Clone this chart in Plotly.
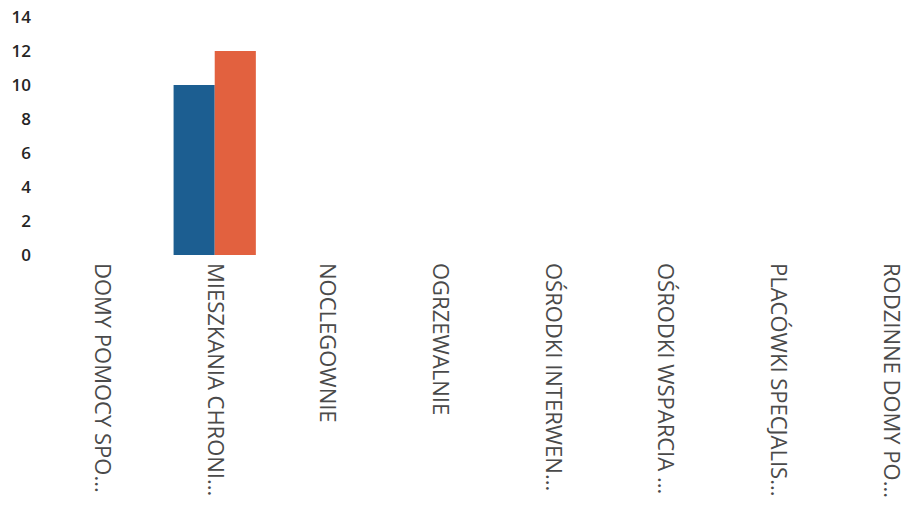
import plotly.graph_objects as go

categories = ["DOMY POMOCY SPO...", "MIESZKANIA CHRONI...", "NOCLEGOWNIE", "OGRZEWALNIE",
              "OŚRODKI INTERWEN...", "OŚRODKI WSPARCIA ...", "PLACÓWKI SPECJALIS...", "RODZINNE DOMY PO..."]
series_a = [0, 10, 0, 0, 0, 0, 0, 0]
series_b = [0, 12, 0, 0, 0, 0, 0, 0]
y_ticks = [0, 2, 4, 6, 8, 10, 12, 14]

fig = go.Figure()
fig.add_trace(go.Bar(x=categories, y=series_a, marker=dict(color="#1c5e91", line=dict(width=0)), name="A"))
fig.add_trace(go.Bar(x=categories, y=series_b, marker=dict(color="#e2613f", line=dict(width=0)), name="B"))

fig.update_layout(
    width=907, height=509,
    margin=dict(l=45, r=0, t=17, b=254),
    plot_bgcolor="white", paper_bgcolor="white",
    showlegend=False,
    barmode="group", bargap=0.27, bargroupgap=0,
    font=dict(family="Open Sans", color="#333333"),
)
fig.update_xaxes(range=[-0.506, 7.143], tickangle=90, showgrid=False, showline=False, zeroline=False,
                 tickfont=dict(size=22, color="#4a4a4a"), ticks="", automargin=False,
                 ticklabelstandoff=7, ticklabeloverflow="allow")
fig.update_yaxes(range=[0, 14], tickvals=y_ticks, showgrid=False, showline=False, zeroline=False,
                 tickfont=dict(size=17, color="#252525", weight=600), ticks="", automargin=False,
                 ticklabelstandoff=13, ticklabeloverflow="allow")
fig.write_html("out.html", config={"displayModeBar": False},
               post_script="document.body.style.margin='0';document.body.style.overflow='hidden';")
